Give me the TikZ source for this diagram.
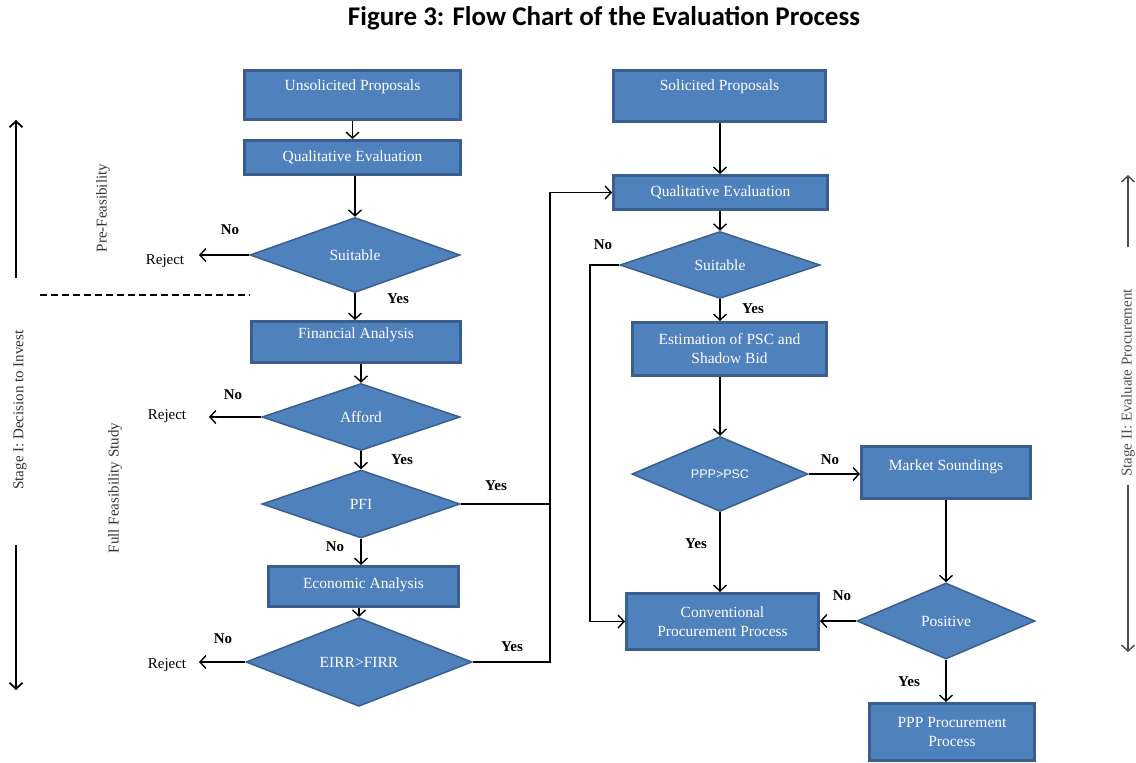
\documentclass[tikz,border=0pt]{standalone}
\usepackage{fontspec}
\setmainfont{Liberation Serif}
\newfontfamily\titlefont{Carlito}
\newfontfamily\arialfont{Liberation Sans}
\usetikzlibrary{shapes.geometric,arrows.meta}
\definecolor{boxfill}{HTML}{4F81BD}
\definecolor{boxline}{HTML}{3A5F8E}
\newcommand\liftt[2]{\raisebox{#1}[0.7em][0.2em]{#2}}
\begin{document}
\begin{tikzpicture}[x=1pt,y=-1pt,
  pbox/.style={rectangle, draw=boxline, line width=3pt, fill=boxfill, text=white,
    font=\fontsize{15.5}{19}\selectfont, align=center, inner sep=0pt},
  dec/.style={diamond, draw=boxline, line width=1.5pt, fill=boxfill, text=white,
    font=\fontsize{15.5}{17}\selectfont, inner sep=0pt, aspect=1},
  lbl/.style={font=\bfseries\fontsize{15}{17}\selectfont, text=black, inner sep=0pt},
  rej/.style={font=\fontsize{15}{17}\selectfont, inner sep=0pt},
  side/.style={font=\fontsize{15}{17}\selectfont, text=black!80, inner sep=0pt},
  arr/.style={-{Straight Barb[length=6pt,width=13pt]}, line width=1.4pt},
  ln/.style={line width=1.4pt}]
\useasboundingbox (0,0) rectangle (1136,763);
\fill[white] (0,0) rectangle (1136,763);

% title
\node[font=\titlefont\bfseries\fontsize{27}{30}\selectfont] (title) at (604,18) {Figure 3: Flow Chart of the Evaluation Process};

% left column
\node[pbox, minimum width=216pt, minimum height=49pt] (up) at (352.5,95) {\liftt{8pt}{Unsolicited Proposals}};
\node[pbox, minimum width=216pt, minimum height=34pt] (qe1) at (352.5,157.5) {Qualitative Evaluation};
\node[dec, minimum width=210pt, minimum height=75pt] (d1) at (355,255) {Suitable};
\node[pbox, minimum width=209pt, minimum height=41pt] (fa) at (356,342) {\liftt{7pt}{Financial Analysis}};
\node[dec, minimum width=198pt, minimum height=67pt] (d2) at (361,417) {Afford};
\node[dec, minimum width=198pt, minimum height=68pt] (d3) at (361,504) {PFI};
\node[pbox, minimum width=190pt, minimum height=40pt] (ea) at (363.5,586.5) {\liftt{2pt}{Economic Analysis}};
\node[dec, minimum width=226pt, minimum height=71pt] (d4) at (359,662) {EIRR>FIRR};

% right column
\node[pbox, minimum width=212pt, minimum height=51pt] (sp) at (719.5,96) {\liftt{9pt}{Solicited Proposals}};
\node[pbox, minimum width=214pt, minimum height=34pt] (qe2) at (720.5,192.5) {Qualitative Evaluation};
\node[dec, minimum width=200pt, minimum height=67pt] (d5) at (720,265) {Suitable};
\node[pbox, minimum width=194pt, minimum height=53pt] (est) at (729.5,349) {Estimation of PSC and\\Shadow Bid};
\node[dec, minimum width=176pt, minimum height=75pt, font=\arialfont\fontsize{12.5}{14}\selectfont] (d6) at (720,474) {PPP>PSC};
\node[pbox, minimum width=169pt, minimum height=52pt] (ms) at (946,472.5) {\liftt{6pt}{Market Soundings}};
\node[dec, minimum width=178pt, minimum height=76pt] (d7) at (946,621) {Positive};
\node[pbox, minimum width=192pt, minimum height=56pt] (cpp) at (722.5,621.5) {Conventional\\Procurement Process};
\node[pbox, minimum width=165pt, minimum height=57pt] (ppp) at (952,732) {PPP Procurement\\Process};

% reject labels and arrow tips
\node[rej] (r1) at (165,261) {Reject};
\node[rej] (r2) at (167,416) {Reject};
\node[rej] (r3) at (167,665) {Reject};
\coordinate (t1) at (199,255);
\coordinate (t2) at (209,417);
\coordinate (t3) at (199,662);
\coordinate (j) at (550,504);
\coordinate (k) at (590,268);

% yes / no labels
\node[lbl] (n1) at (230,230) {No};
\node[lbl] (y1) at (398,299) {Yes};
\node[lbl] (n2) at (233,395) {No};
\node[lbl] (y2) at (402,460) {Yes};
\node[lbl] (y3) at (496,486) {Yes};
\node[lbl] (n3) at (335,547) {No};
\node[lbl] (n4) at (223,639) {No};
\node[lbl] (y4) at (512,647) {Yes};
\node[lbl] (n5) at (603,245) {No};
\node[lbl] (y5) at (753,309) {Yes};
\node[lbl] (n6) at (830,460) {No};
\node[lbl] (y6) at (696,544) {Yes};
\node[lbl] (n7) at (842,596) {No};
\node[lbl] (y7) at (909,682) {Yes};

% connectors left
\draw[arr] (up) -- (qe1);
\draw[arr] (qe1.south -| d1.north) -- (d1.north);
\draw[arr] (d1.west) -- (d1.west -| t1);
\draw[arr] (d1.south) -- (d1.south |- fa.north);
\draw[arr] (fa.south -| d2.north) -- (d2.north);
\draw[arr] (d2.west) -- (d2.west -| t2);
\draw[arr] (d2.south) -- (d3.north);
\draw[arr] (d3.south) -- (d3.south |- ea.north);
\draw[arr] (ea.south -| d4.north) -- (d4.north);
\draw[arr] (d4.west) -- (d4.west -| t3);
\draw[arr] (d3.east) -- (d3.east -| j) |- (qe2.west);
\draw[ln] (d4.east) -| (j);

% connectors right
\draw[arr] (sp.south -| d5.north) -- (qe2.north -| d5.north);
\draw[arr] (qe2.south -| d5.north) -- (d5.north);
\draw[arr] (d5.west) -- (d5.west -| k) |- (cpp.west);
\draw[arr] (d5.south) -- (d5.south |- est.north);
\draw[arr] (est.south -| d6.north) -- (d6.north);
\draw[arr] (d6.east) -- (d6.east -| ms.west);
\draw[arr] (d6.south) -- (d6.south |- cpp.north);
\draw[arr] (ms.south -| d7.north) -- (d7.north);
\draw[arr] (d7.west) -- (d7.west -| cpp.east);
\draw[arr] (d7.south) -- (d7.south |- ppp.north);

% separator
\draw[line width=1.2pt, dash pattern=on 7pt off 4pt] (40,295) -- (250,295);

% side markers
\coordinate (la1) at (16,278); \coordinate (la2) at (16,120);
\coordinate (la3) at (16,545); \coordinate (la4) at (16,690);
\draw[arr, line width=1.8pt] (la1) -- (la2);
\draw[arr, line width=1.8pt] (la3) -- (la4);
\node[side, rotate=90] (s1) at (20,410) {Stage I: Decision to Invest};
\node[side, rotate=90] (pf) at (103,208) {Pre-Feasibility};
\node[side, rotate=90] (ff) at (115,488) {Full Feasibility Study};
\coordinate (ra1) at (1128,247); \coordinate (ra2) at (1128,175);
\coordinate (ra3) at (1128,485); \coordinate (ra4) at (1128,652);
\draw[arr, draw=black!70] (ra1) -- (ra2);
\draw[arr, draw=black!70] (ra3) -- (ra4);
\node[side, rotate=90, text=black!70] (s2) at (1128,383) {Stage II: Evaluate Procurement};
\end{tikzpicture}
\end{document}
